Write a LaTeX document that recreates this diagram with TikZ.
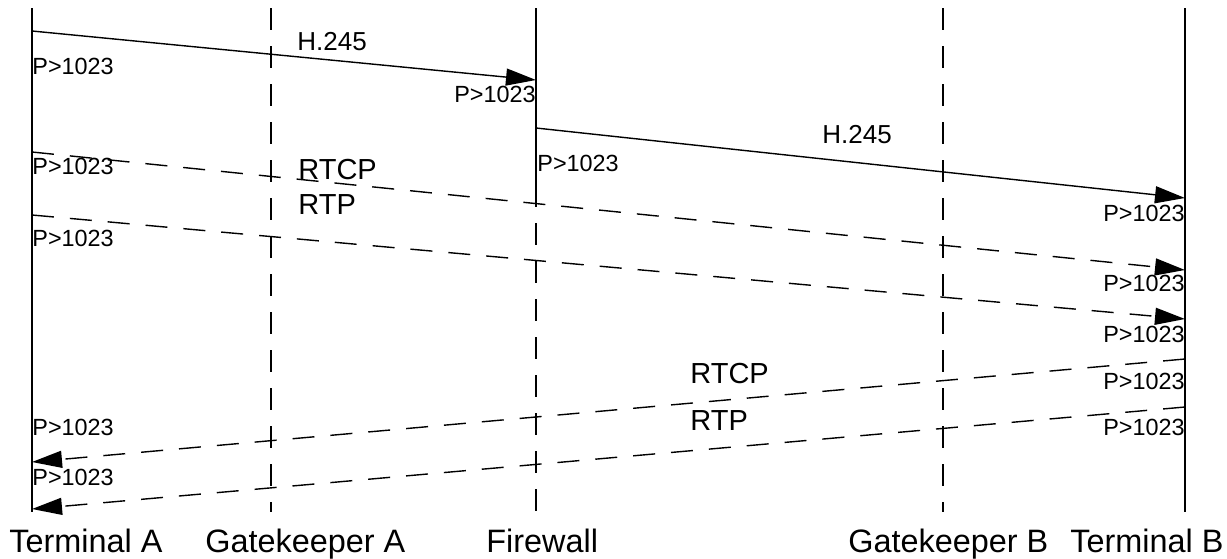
\documentclass[tikz,border=0pt]{standalone}
\usepackage{fontspec}
\setmainfont{Liberation Sans}
\usetikzlibrary{arrows.meta,positioning}

\begin{document}
\begin{tikzpicture}[x=0.5pt, y=-0.5pt]
  % Styles for lifelines, messages and labels
  \tikzstyle{lifeline} = [line width=1pt]
  \tikzstyle{lifedash} = [line width=1pt, dash pattern=on 11pt off 8pt]
  \tikzstyle{msg} = [line width=0.7pt, -{Triangle[length=15pt,width=8.5pt]}]
  \tikzstyle{msgdash} = [msg, dash pattern=on 11pt off 8pt]
  \tikzstyle{port} = [inner sep=0pt, font=\fontsize{11.7}{14}\selectfont]
  \tikzstyle{signal} = [inner sep=0pt, font=\fontsize{13}{15}\selectfont]
  \tikzstyle{proto} = [inner sep=0pt, font=\fontsize{14.5}{17}\selectfont]
  \tikzstyle{entity} = [inner sep=0pt, font=\fontsize{16.2}{19}\selectfont]

  \useasboundingbox (0,0) rectangle (1227,558);

  % Lifeline end points
  \coordinate (taTop) at (32,8);    \coordinate (taBot) at (32,512);
  \coordinate (gaTop) at (271,8);   \coordinate (gaBot) at (271,512);
  \coordinate (fwTop) at (536,8);   \coordinate (fwMid) at (536,185);
  \coordinate (fwBot) at (536,512);
  \coordinate (gbTop) at (943,8);   \coordinate (gbBot) at (943,512);
  \coordinate (tbTop) at (1185,8);  \coordinate (tbBot) at (1185,512);

  % Lifelines
  \draw[lifeline] (taTop) -- (taBot);
  \draw[lifedash] (gaTop) -- (gaBot);
  \draw[lifeline] (fwTop) -- (fwMid);
  \draw[lifedash] (fwMid) -- (fwBot);
  \draw[lifedash] (gbTop) -- (gbBot);
  \draw[lifeline] (tbTop) -- (tbBot);

  % Entity names
  \node[entity, anchor=base west] (termA) at (9,552) {Terminal A};
  \node[entity, anchor=base west] (gkA) at (205,552) {Gatekeeper A};
  \node[entity, anchor=base west] (fw) at (486,552) {Firewall};
  \node[entity, anchor=base west] (gkB) at (848,552) {Gatekeeper B};
  \node[entity, anchor=base west] (termB) at (1070,552) {Terminal B};

  % Message end points
  \coordinate (h1From) at (32,31);    \coordinate (h1To) at (536,80);
  \coordinate (h2From) at (536,128);  \coordinate (h2To) at (1185,198);
  \coordinate (c1From) at (32,152);   \coordinate (c1To) at (1185,270);
  \coordinate (r1From) at (32,215);   \coordinate (r1To) at (1185,319);
  \coordinate (c2From) at (1185,359); \coordinate (c2To) at (32,462);
  \coordinate (r2From) at (1185,407); \coordinate (r2To) at (32,509);

  % Messages
  \draw[msg] (h1From) -- (h1To);
  \draw[msg] (h2From) -- (h2To);
  \draw[msgdash] (c1From) -- (c1To);
  \draw[msgdash] (r1From) -- (r1To);
  \draw[msgdash] (c2From) -- (c2To);
  \draw[msgdash] (r2From) -- (r2To);

  % Protocol names
  \node[signal, anchor=west] (h1Lbl) at (297,42) {H.245};
  \node[signal, anchor=west] (h2Lbl) at (822,135) {H.245};
  \node[proto, anchor=west] (c1Lbl) at (298,170) {RTCP};
  \node[proto, anchor=west] (r1Lbl) at (298,205) {RTP};
  \node[proto, anchor=west] (c2Lbl) at (690,374) {RTCP};
  \node[proto, anchor=west] (r2Lbl) at (690,421) {RTP};

  % Port numbers
  \node[port, anchor=west] (p1) at (32,66) {P>1023};
  \node[port, anchor=east] (p2) at (536,94) {P>1023};
  \node[port, anchor=west] (p3) at (537,163) {P>1023};
  \node[port, anchor=east] (p4) at (1185,213) {P>1023};
  \node[port, anchor=west] (p5) at (32,166) {P>1023};
  \node[port, anchor=west] (p6) at (32,238) {P>1023};
  \node[port, anchor=east] (p7) at (1185,283) {P>1023};
  \node[port, anchor=east] (p8) at (1185,334) {P>1023};
  \node[port, anchor=east] (p9) at (1185,381) {P>1023};
  \node[port, anchor=east] (p10) at (1185,427) {P>1023};
  \node[port, anchor=west] (p11) at (32,427) {P>1023};
  \node[port, anchor=west] (p12) at (32,477) {P>1023};
\end{tikzpicture}
\end{document}
